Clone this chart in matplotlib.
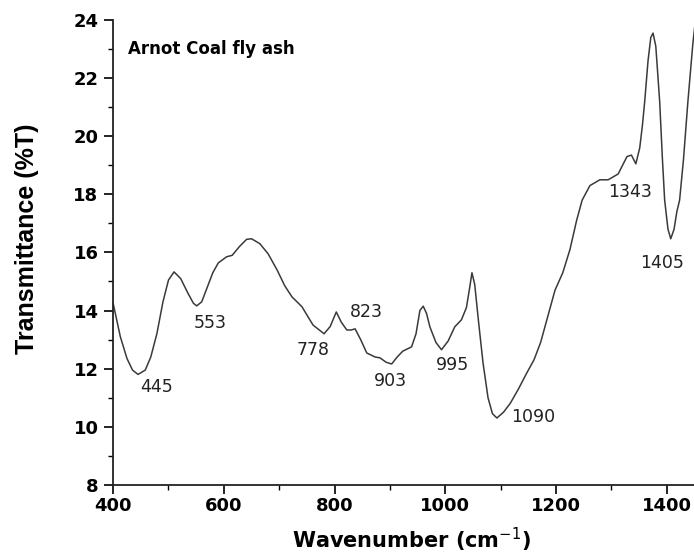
import matplotlib.pyplot as plt
from matplotlib.ticker import MultipleLocator

plt.rcParams['font.family'] = ['DejaVu Sans']
plt.rcParams['mathtext.fontset'] = 'dejavusans'

# FTIR spectrum of the fly ash sample
wavenumber = [400, 413, 425, 435, 445, 458, 468, 479, 490, 500, 510, 522, 535, 545, 551,
              560, 570, 580, 590, 605, 615, 628, 641, 650, 665, 680, 696, 710, 723, 741,
              761, 781, 792, 803, 812, 822, 830, 837, 847, 858, 873, 882, 893, 903, 913,
              923, 939, 947, 954, 960, 966, 972, 983, 993, 1005, 1017, 1029, 1038, 1044,
              1048, 1053, 1060, 1068, 1077, 1085, 1093, 1105, 1117, 1132, 1147, 1160,
              1172, 1185, 1198, 1212, 1225, 1237, 1247, 1261, 1279, 1294, 1312, 1328,
              1336, 1344, 1351, 1356, 1360, 1366, 1371, 1375, 1380, 1387, 1392, 1396,
              1402, 1407, 1413, 1418, 1423, 1430, 1438, 1447, 1455]
transmittance = [14.25, 13.1, 12.35, 11.95, 11.8, 11.95, 12.4, 13.2, 14.3, 15.05, 15.33,
                 15.1, 14.6, 14.25, 14.16, 14.3, 14.8, 15.3, 15.64, 15.85, 15.9, 16.2,
                 16.45, 16.47, 16.3, 15.95, 15.4, 14.85, 14.47, 14.13, 13.5, 13.2, 13.45,
                 13.95, 13.6, 13.33, 13.33, 13.37, 13.0, 12.54, 12.4, 12.37, 12.22, 12.16,
                 12.4, 12.6, 12.75, 13.2, 14.0, 14.15, 13.9, 13.44, 12.9, 12.65, 12.95,
                 13.44, 13.68, 14.1, 14.8, 15.3, 14.9, 13.6, 12.2, 11.0, 10.45, 10.3,
                 10.5, 10.8, 11.3, 11.85, 12.3, 12.9, 13.8, 14.7, 15.3, 16.1, 17.1, 17.8,
                 18.3, 18.5, 18.5, 18.7, 19.3, 19.35, 19.05, 19.6, 20.4, 21.2, 22.6,
                 23.4, 23.55, 23.1, 21.2, 19.2, 17.8, 16.8, 16.47, 16.8, 17.4, 17.8,
                 19.2, 21.2, 23.2, 24.6]

# band labels and where their text sits
band_labels = ['445', '553', '778', '823', '903', '995', '1090', '1343', '1405']
label_x = [479, 575, 761, 858, 900, 1012, 1158, 1333, 1391]
label_y = [11.37, 13.57, 12.65, 13.95, 11.58, 12.13, 10.34, 18.08, 15.64]

fig = plt.figure(figsize=(6.94, 5.56), dpi=100)
ax = fig.add_axes([0.163, 0.128, 0.837, 0.836])

ax.plot(wavenumber, transmittance, color='#3a3a3a', lw=1.1)

for txt, lx, ly in zip(band_labels, label_x, label_y):
    ax.text(lx, ly, txt, fontsize=12.5, ha='center', va='center', color='#222222')

ax.text(427, 23.0, 'Arnot Coal fly ash', fontsize=12, fontweight='bold',
        ha='left', va='center')

ax.set_xlim(400, 1449)
ax.set_ylim(8, 24)
ax.xaxis.set_major_locator(MultipleLocator(200))
ax.xaxis.set_minor_locator(MultipleLocator(100))
ax.yaxis.set_major_locator(MultipleLocator(2))
ax.yaxis.set_minor_locator(MultipleLocator(1))

ax.spines['top'].set_visible(False)
ax.spines['right'].set_visible(False)
for s in ('left', 'bottom'):
    ax.spines[s].set_linewidth(1.3)
    ax.spines[s].set_color('#222222')

ax.tick_params(which='major', direction='out', length=6.5, width=1.2, labelsize=13)
ax.tick_params(which='minor', direction='out', length=3.6, width=1.0)
ax.tick_params(axis='x', pad=2.5)
ax.tick_params(axis='y', pad=4)
for lab in ax.get_xticklabels() + ax.get_yticklabels():
    lab.set_fontweight('bold')

ax.set_xlabel('Wavenumber (cm$^{-1}$)', fontsize=15, fontweight='bold')
ax.set_ylabel('Transmittance (%T)', fontsize=18, fontweight='bold',
              family='Liberation Sans')
ax.xaxis.set_label_coords(0.513, -0.088)
ax.yaxis.set_label_coords(-0.128, 0.53)

fig.savefig('out.png', dpi=100)
